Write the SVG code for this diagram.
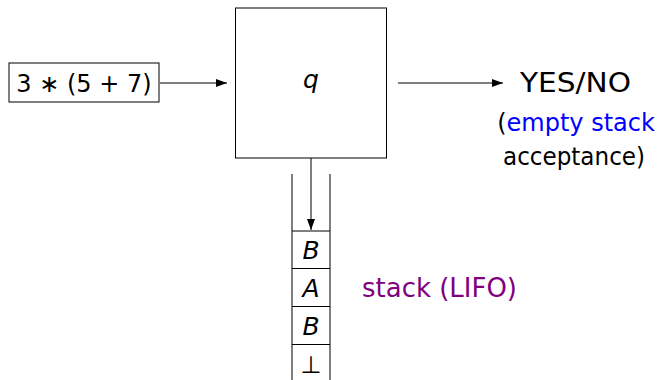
<svg xmlns="http://www.w3.org/2000/svg" width="657" height="380" viewBox="0 0 657 380">
<style>
.box{fill:#fff;stroke:#000;stroke-width:1}
.t{font-family:"DejaVu Sans","Liberation Sans",sans-serif;fill:#000}
.it{font-style:italic}
.edge{stroke:#000;stroke-width:1;fill:none}
</style>
<defs>
<marker id="ah" viewBox="0 0 11 8" refX="11" refY="4" markerWidth="11" markerHeight="8" markerUnits="userSpaceOnUse" orient="auto">
<path d="M0,0 L11,4 L0,8 Z" fill="#000"/>
</marker>
</defs>
<rect width="657" height="380" fill="#fff"/>
<g id="input">
<rect class="box" x="9" y="63" width="150" height="39"/>
<text class="t" x="84" y="92" font-size="24" text-anchor="middle">3 ∗ (5 + 7)</text>
</g>
<g id="state">
<rect class="box" x="235.5" y="8" width="151" height="150"/>
<text class="t it" x="311" y="88" font-size="25" text-anchor="middle">q</text>
</g>
<g id="output">
<text class="t" x="520" y="92" font-size="26" textLength="111" lengthAdjust="spacingAndGlyphs">YES/NO</text>
<text class="t" x="576" y="131" font-size="24" text-anchor="middle">(<tspan fill="#0000ff">empty stack</tspan></text>
<text class="t" x="503" y="165" font-size="24" textLength="142" lengthAdjust="spacingAndGlyphs">acceptance)</text>
</g>
<g id="stack">
<line class="edge" x1="292" y1="174" x2="292" y2="380"/>
<line class="edge" x1="330" y1="174" x2="330" y2="380"/>
<line class="edge" x1="292" y1="231" x2="330" y2="231"/>
<line class="edge" x1="292" y1="268.5" x2="330" y2="268.5"/>
<line class="edge" x1="292" y1="306.5" x2="330" y2="306.5"/>
<line class="edge" x1="292" y1="344.5" x2="330" y2="344.5"/>
<text class="t it" x="311" y="259" font-size="25" text-anchor="middle">B</text>
<text class="t it" x="311" y="297" font-size="25" text-anchor="middle">A</text>
<text class="t it" x="311" y="335" font-size="25" text-anchor="middle">B</text>
<text class="t" x="311" y="373" font-size="24" text-anchor="middle">⊥</text>
<text class="t" x="362" y="297" font-size="26" textLength="155" lengthAdjust="spacingAndGlyphs" style="fill:#800080">stack (LIFO)</text>
</g>
<g id="connectors">
<line class="edge" x1="160" y1="83" x2="227" y2="83" marker-end="url(#ah)"/>
<line class="edge" x1="398" y1="83" x2="503" y2="83" marker-end="url(#ah)"/>
<line class="edge" x1="311" y1="158" x2="311" y2="230" marker-end="url(#ah)"/>
</g>
</svg>
